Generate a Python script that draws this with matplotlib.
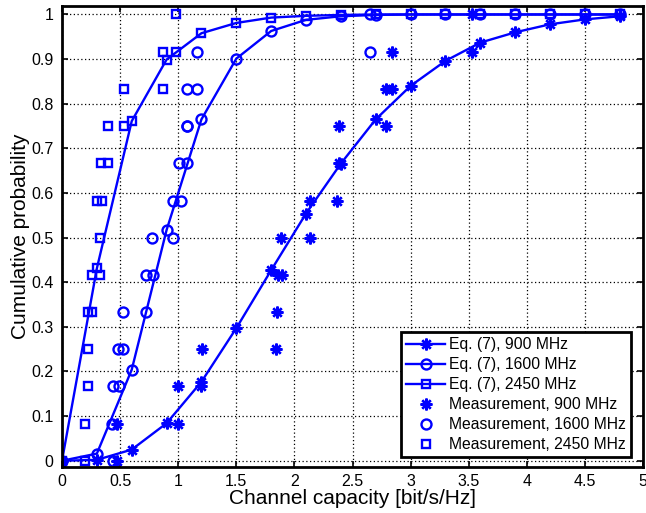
import matplotlib
matplotlib.use("Agg")
import matplotlib.pyplot as plt

plt.rcParams['font.family'] = ['Liberation Sans', 'DejaVu Sans']

# ---- Eq. (7) model curves (sampled every 0.3 bit/s/Hz) ----
eq_x = [0.0, 0.3, 0.6, 0.9, 1.2, 1.5, 1.8, 2.1, 2.4, 2.7, 3.0, 3.3, 3.6, 3.9, 4.2, 4.5, 4.8]
eq_900 = [0.0, 0.002, 0.025, 0.084, 0.177, 0.297, 0.427, 0.554, 0.666, 0.765,
          0.840, 0.896, 0.937, 0.960, 0.978, 0.989, 0.996]
eq_1600 = [0.0, 0.016, 0.204, 0.517, 0.765, 0.901, 0.963, 0.988, 0.996, 0.999,
           1.0, 1.0, 1.0, 1.0, 1.0, 1.0, 1.0]
eq_2450 = [0.0, 0.431, 0.761, 0.899, 0.958, 0.981, 0.993, 0.997, 0.999, 1.0,
           1.0, 1.0, 1.0, 1.0, 1.0, 1.0, 1.0]

# ---- Measurements ----
meas_900_x = [0.47, 0.47, 1.0, 1.0, 1.2, 1.209, 1.844, 1.85, 1.86, 1.89, 1.887, 2.138,
              2.138, 2.364, 2.38, 2.38, 2.787, 2.787, 2.838, 2.838, 3.525, 3.525]
meas_900_y = [0.0, 0.083, 0.083, 0.167, 0.167, 0.25, 0.25, 0.333, 0.417, 0.417, 0.5, 0.5,
              0.583, 0.583, 0.667, 0.75, 0.75, 0.833, 0.833, 0.917, 0.917, 1.0]

meas_1600_x = [0.443, 0.43, 0.443, 0.494, 0.486, 0.528, 0.528, 0.723, 0.723, 0.78, 0.772,
               0.957, 0.952, 1.02, 1.009, 1.072, 1.072, 1.08, 1.08, 1.158, 1.158, 2.65, 2.65]
meas_1600_y = [0.0, 0.083, 0.167, 0.167, 0.25, 0.25, 0.333, 0.333, 0.417, 0.417, 0.5,
               0.5, 0.583, 0.583, 0.667, 0.667, 0.75, 0.75, 0.833, 0.833, 0.917, 0.917, 1.0]

meas_2450_x = [0.2, 0.2, 0.228, 0.228, 0.228, 0.257, 0.257, 0.323, 0.323, 0.305, 0.343,
               0.337, 0.40, 0.40, 0.53, 0.534, 0.866, 0.866, 0.983, 0.983]
meas_2450_y = [0.0, 0.083, 0.167, 0.25, 0.333, 0.333, 0.417, 0.417, 0.5, 0.583, 0.583,
               0.667, 0.667, 0.75, 0.75, 0.833, 0.833, 0.917, 0.917, 1.0]

x_ticks = [0, 0.5, 1, 1.5, 2, 2.5, 3, 3.5, 4, 4.5, 5]
x_tick_labels = ['0', '0.5', '1', '1.5', '2', '2.5', '3', '3.5', '4', '4.5', '5']
y_ticks = [0, 0.1, 0.2, 0.3, 0.4, 0.5, 0.6, 0.7, 0.8, 0.9, 1]
y_tick_labels = ['0', '0.1', '0.2', '0.3', '0.4', '0.5', '0.6', '0.7', '0.8', '0.9', '1']

blue = (0, 0, 1)
star = (8, 2, 0)

fig = plt.figure(figsize=(6.46, 5.13), dpi=100)
ax = fig.add_axes([62 / 646, 46 / 513, 581 / 646, 461 / 513])

lw = 1.7
mew = 1.7
ax.plot(eq_x, eq_900, color=blue, lw=lw, marker=star, ms=8.5, mew=mew,
        label='Eq. (7), 900 MHz')
ax.plot(eq_x, eq_1600, color=blue, lw=lw, marker='o', ms=7.2, mew=mew, mfc='none',
        label='Eq. (7), 1600 MHz')
ax.plot(eq_x, eq_2450, color=blue, lw=lw, marker='s', ms=6.2, mew=mew, mfc='none',
        label='Eq. (7), 2450 MHz')
ax.plot(meas_900_x, meas_900_y, ls='none', color=blue, marker=star, ms=8.5, mew=mew,
        label='Measurement, 900 MHz')
ax.plot(meas_1600_x, meas_1600_y, ls='none', color=blue, marker='o', ms=7.2, mew=mew,
        mfc='none', label='Measurement, 1600 MHz')
ax.plot(meas_2450_x, meas_2450_y, ls='none', color=blue, marker='s', ms=6.2, mew=mew,
        mfc='none', label='Measurement, 2450 MHz')

ax.set_xlim(0, 5)
ax.set_ylim(-0.014, 1.019)
ax.set_xticks(x_ticks)
ax.set_xticklabels(x_tick_labels)
ax.set_yticks(y_ticks)
ax.set_yticklabels(y_tick_labels)
ax.grid(True, color='black', linestyle=(0, (1, 2)), linewidth=0.9)
ax.tick_params(direction='in', length=4, width=1.2, top=True, right=True,
               labelsize=11.5)
ax.tick_params(axis='y', pad=6)
ax.tick_params(axis='x', pad=5)
for s in ax.spines.values():
    s.set_linewidth(2)

ax.set_xlabel('Channel capacity [bit/s/Hz]', fontsize=15, labelpad=0)
ax.set_ylabel('Cumulative probability', fontsize=15, labelpad=1)

leg = ax.legend(loc='lower right', bbox_to_anchor=(0.979, 0.022), fontsize=11.3,
                frameon=True, fancybox=False, edgecolor='black', framealpha=1,
                handlelength=2.5, handletextpad=0.25, labelspacing=0.32,
                borderpad=0.3, borderaxespad=0.0)
leg.get_frame().set_linewidth(2)

fig.savefig('out.png', dpi=100)
